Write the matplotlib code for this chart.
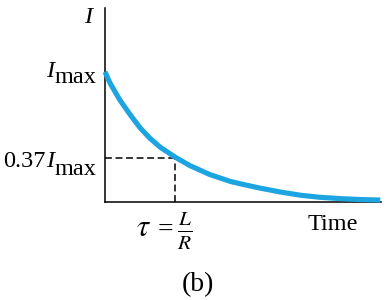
"""
RL circuit current decay, I(t) vs time, panel (b).
"""

import matplotlib
matplotlib.use("Agg")
import matplotlib.pyplot as plt

W, H = 386, 300

# time in units of tau = L/R, current as fraction of I_max
t_tau = [0.0, 0.07, 0.21, 0.36, 0.5, 0.64, 0.79, 1.0, 1.21, 1.5, 1.79, 1.93,
         2.21, 2.5, 2.79, 3.07, 3.36, 3.64, 3.93]
i_rel = [1.0, 0.915, 0.785, 0.67, 0.57, 0.49, 0.42, 0.345, 0.28, 0.21, 0.158,
         0.14, 0.107, 0.077, 0.052, 0.036, 0.026, 0.019, 0.015]

tau_mark = 1.0
level_mark = 0.34
t_end = 3.94
i_top = 1.49

curve_color = "#1CA5E0"
font_size = 17.5

plt.rcParams["font.family"] = ["Liberation Serif", "DejaVu Serif"]
plt.rcParams["mathtext.fontset"] = "stix"


def fx(px):
    return px / W


def fy(py):
    return 1 - py / H


fig = plt.figure(figsize=(W / 100, H / 100), dpi=100)
ax = fig.add_axes([fx(105), fy(202), fx(381) - fx(105), fy(8) - fy(202)])

ax.plot(t_tau, i_rel, color=curve_color, lw=3.7, solid_capstyle="butt",
        solid_joinstyle="round", clip_on=False, zorder=3)
ax.plot([0, tau_mark], [level_mark, level_mark], color="black", lw=1.1,
        ls=(0, (4.5, 2.4)), zorder=2)
ax.plot([tau_mark, tau_mark], [0, level_mark], color="black", lw=1.1,
        ls=(0, (4.5, 2.4)), zorder=2)

ax.set_xlim(0, t_end)
ax.set_ylim(0, i_top)
for side in ("top", "right"):
    ax.spines[side].set_visible(False)
for side in ("left", "bottom"):
    ax.spines[side].set_linewidth(1.1)
ax.set_xticks([]); ax.set_yticks([])

renderer = fig.canvas.get_renderer()


def place_right(pieces, x_right):
    """Lay out text pieces right-to-left, each with its own baseline."""
    x = x_right
    for txt, y_base, style in reversed(pieces):
        t = fig.text(fx(x), fy(y_base), txt, ha="right", va="baseline",
                     fontsize=font_size, style=style)
        x = t.get_window_extent(renderer).x0 - 0.3


place_right([("I", 23, "italic")], 92)
place_right([("I", 77, "italic"), ("max", 83, "normal")], 96)
place_right([("0.37", 167, "normal"), ("I", 167, "italic"),
             ("max", 175, "normal")], 96)

# tau = L / R
fig.text(fx(144), fy(236), r"$\tau$", ha="center", va="baseline", fontsize=22)
fig.text(fx(165), fy(237), "=", ha="center", va="baseline", fontsize=20)
fig.text(fx(184.5), fy(230.5), r"$\frac{L}{R}$", ha="center", va="center",
         fontsize=22)

fig.text(fx(308), fy(230), "Time", ha="left", va="baseline", fontsize=font_size)
fig.text(fx(198), fy(291), "(b)", ha="center", va="baseline", fontsize=20)

fig.savefig("out.png", dpi=100)
